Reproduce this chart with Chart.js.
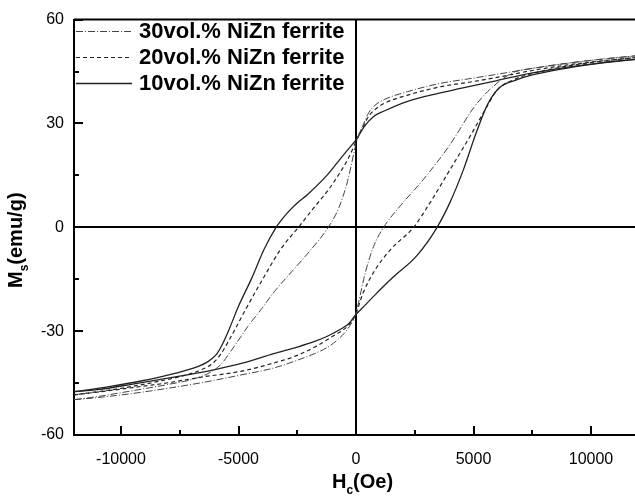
<!DOCTYPE html>
<html><head><meta charset="utf-8">
<script src="https://cdn.jsdelivr.net/npm/chart.js@4.4.1/dist/chart.umd.min.js"></script>
<style>html,body{margin:0;padding:0;background:#fff;overflow:hidden}#wrap{width:640px;height:500px;position:relative}</style>
</head><body><div id="wrap"><canvas id="c" width="640" height="500"></canvas></div>
<script>
// ---- data ----
const seriesLabels = ['30vol.% NiZn ferrite', '20vol.% NiZn ferrite', '10vol.% NiZn ferrite'];
const xMajorTicks = [-10000, -5000, 0, 5000, 10000];
const xMinorTicks = [-7500, -2500, 2500, 7500];
const yMajorTicks = [-60, -30, 0, 30, 60];
const yMinorTicks = [-45, -15, 15, 45];

// 30vol.% (dash-dot) — descending-field branch, then ascending-field branch
const h30dn = [12000,10500,9000,7500,6000,4800,3600,2200,1200,800,550,320,70,-360,-720,-1180,-1885,-2877,-3476,-4012,-4600,-4900,-5400,-5745,-6315,-7000,-8000,-9500,-11000,-12000];
const m30dn = [49.6,48.6,47.4,45.9,44.2,42.9,41.6,39.2,36.9,35.2,33.2,29.8,25.9,13.3,5.8,0,-6.2,-13.9,-18.6,-23.5,-28.6,-31.6,-36.5,-39.6,-42.3,-44.0,-45.4,-47.2,-48.9,-49.8];
const h30up = [-12000,-11000,-9500,-8000,-6500,-5000,-3476,-2500,-1730,-1200,-800,-500,-250,-30,400,750,1175,1885,2877,4012,5000,5500,5860,6300,6800,7500,9000,10500,12000];
const m30up = [-49.8,-49.2,-48.0,-46.5,-44.8,-42.8,-40.6,-38.4,-36.4,-34.6,-32.6,-30.6,-28.3,-25.4,-13.0,-5.5,0,6.2,13.9,24.0,34.5,38.5,40.8,43.2,45.0,45.9,47.4,48.6,49.6];

// 20vol.% (dashed)
const h20dn = [12000,10500,9000,7500,6000,4800,3600,2200,1200,800,550,320,70,-300,-700,-1200,-1800,-2450,-3190,-4040,-4750,-5350,-5750,-6100,-6600,-7300,-8400,-9800,-11000,-12000];
const m20dn = [49.1,48.1,46.9,45.3,43.3,41.9,40.6,38.2,35.8,34.0,32.2,29.3,25.9,20.3,15.6,10.6,5.6,0,-6.2,-15.8,-24.4,-32.0,-36.6,-39.3,-41.2,-42.8,-44.5,-46.3,-47.5,-48.4];
const h20up = [-12000,-11000,-9500,-8000,-6500,-4900,-3500,-2500,-1730,-1000,-300,-30,300,750,1460,2450,3160,4012,4863,5500,6000,6700,7500,9000,10500,12000];
const m20up = [-48.4,-47.6,-46.3,-44.9,-43.2,-41.6,-39.2,-37.0,-34.5,-31.5,-28.2,-25.4,-19.0,-13.0,-6.5,0,7.2,16.8,26.4,34.0,39.6,42.6,44.4,46.6,48.0,49.1];

// 10vol.% (solid)
const h10dn = [12000,10500,9000,7500,6000,4500,3500,2200,1200,750,320,70,-300,-700,-1200,-2060,-2500,-2900,-3150,-3400,-3900,-4450,-5000,-5400,-5700,-5950,-6300,-6800,-7700,-9150,-10500,-12000];
const m10dn = [48.6,47.6,46.3,44.6,42.4,40.2,38.7,36.4,33.6,32.0,28.8,25.9,22.8,19.5,15.3,9.5,7.0,4.3,2.3,0,-6.2,-14.9,-22.8,-29.5,-34.0,-36.8,-38.8,-40.4,-42.2,-44.4,-46.0,-47.5];
const h10up = [-12000,-11000,-9500,-8000,-7000,-6000,-4800,-3500,-2500,-1730,-1200,-700,-300,-30,400,800,1550,2600,3450,4000,4580,5100,5600,6100,6800,7500,9000,10500,12000];
const m10up = [-47.5,-46.9,-45.3,-43.6,-42.4,-41.1,-39.2,-36.5,-34.6,-32.9,-31.4,-29.6,-27.8,-25.4,-22.4,-19.6,-14.6,-8.1,0,7.2,16.8,27.0,35.5,40.3,42.5,44.0,46.0,47.5,48.6];

function pts(h, m) { return h.map((v, i) => ({ x: v, y: m[i] })); }

const FONT = "'Liberation Sans', Arial, sans-serif";
const styles = [
  { color: '#444', width: 1, dash: [7, 2, 1, 2] },
  { color: '#222', width: 1.2, dash: [4, 3] },
  { color: '#222', width: 1.3, dash: [] }
];

function ds(label, h, m, st) {
  return { label, data: pts(h, m), showLine: true, borderColor: st.color, borderWidth: st.width, borderDash: st.dash,
           pointRadius: 0, cubicInterpolationMode: 'monotone', fill: false };
}

const decorPlugin = {
  id: 'decor',
  beforeDatasetsDraw(chart) {
    const { ctx, chartArea: a, scales: { x, y } } = chart;
    ctx.save();
    ctx.strokeStyle = '#000';
    ctx.lineWidth = 2;
    const x0 = Math.round(x.getPixelForValue(0));
    const y0 = Math.round(y.getPixelForValue(0));
    ctx.beginPath();
    ctx.moveTo(x0, a.top); ctx.lineTo(x0, a.bottom);
    ctx.moveTo(a.left, y0); ctx.lineTo(a.right, y0);
    ctx.moveTo(a.left, a.top); ctx.lineTo(a.right, a.top);
    ctx.stroke();
    ctx.beginPath();
    xMajorTicks.forEach(v => { const p = Math.round(x.getPixelForValue(v)); ctx.moveTo(p, a.bottom); ctx.lineTo(p, a.bottom - 9); });
    xMinorTicks.forEach(v => { const p = Math.round(x.getPixelForValue(v)); ctx.moveTo(p, a.bottom); ctx.lineTo(p, a.bottom - 5); });
    yMajorTicks.forEach(v => { const p = Math.round(y.getPixelForValue(v)); ctx.moveTo(a.left, p); ctx.lineTo(a.left + 9, p); });
    yMinorTicks.forEach(v => { const p = Math.round(y.getPixelForValue(v)); ctx.moveTo(a.left, p); ctx.lineTo(a.left + 5, p); });
    ctx.stroke();
    ctx.restore();
  },
  afterDraw(chart) {
    const { ctx } = chart;
    ctx.save();
    const rows = [31, 57, 83];
    seriesLabels.forEach((label, i) => {
      const st = styles[i];
      ctx.strokeStyle = st.color;
      ctx.lineWidth = st.width;
      ctx.setLineDash(st.dash);
      ctx.beginPath();
      ctx.moveTo(76, rows[i] + 0.5); ctx.lineTo(132, rows[i] + 0.5);
      ctx.stroke();
      ctx.setLineDash([]);
      ctx.fillStyle = '#000';
      ctx.font = 'bold 22px ' + FONT;
      ctx.textBaseline = 'middle';
      ctx.textAlign = 'left';
      ctx.fillText(label, 139, rows[i] + 1);
    });
    ctx.fillStyle = '#000';
    ctx.textBaseline = 'alphabetic';
    ctx.textAlign = 'left';
    let xx = 332, yy = 488;
    ctx.font = 'bold 20px ' + FONT;
    ctx.fillText('H', xx, yy); xx += ctx.measureText('H').width;
    ctx.font = 'bold 12px ' + FONT;
    ctx.fillText('c', xx, yy + 6); xx += ctx.measureText('c').width;
    ctx.font = 'bold 20px ' + FONT;
    ctx.fillText('(Oe)', xx, yy);
    ctx.translate(22, 288);
    ctx.rotate(-Math.PI / 2);
    let tx = 0;
    ctx.font = 'bold 20px ' + FONT;
    ctx.fillText('M', tx, 0); tx += ctx.measureText('M').width;
    ctx.font = 'bold 12px ' + FONT;
    ctx.fillText('s', tx, 6); tx += ctx.measureText('s').width;
    ctx.font = 'bold 20px ' + FONT;
    ctx.fillText('(emu/g)', tx, 0);
    ctx.restore();
  }
};

new Chart(document.getElementById('c'), {
  type: 'scatter',
  data: {
    datasets: [
      ds(seriesLabels[0], h30dn, m30dn, styles[0]), ds(seriesLabels[0], h30up, m30up, styles[0]),
      ds(seriesLabels[1], h20dn, m20dn, styles[1]), ds(seriesLabels[1], h20up, m20up, styles[1]),
      ds(seriesLabels[2], h10dn, m10dn, styles[2]), ds(seriesLabels[2], h10up, m10up, styles[2])
    ]
  },
  options: {
    responsive: false,
    animation: false,
    devicePixelRatio: 1,
    layout: { padding: { left: 0, top: 17, right: 2, bottom: 0 } },
    plugins: { legend: { display: false }, tooltip: { enabled: false } },
    scales: {
      x: {
        type: 'linear', min: -12000, max: 12000,
        afterBuildTicks: s => { s.ticks = xMajorTicks.map(v => ({ value: v })); },
        afterFit: s => { s.height = 65; },
        grid: { display: false, drawTicks: false },
        border: { display: true, color: '#000', width: 2 },
        ticks: { color: '#000', font: { family: FONT, size: 16 }, padding: 15, maxRotation: 0, autoSkip: false, callback: v => String(v) }
      },
      y: {
        type: 'linear', min: -60, max: 60,
        afterBuildTicks: s => { s.ticks = yMajorTicks.map(v => ({ value: v })); },
        afterFit: s => { s.width = 74; },
        grid: { display: false, drawTicks: false },
        border: { display: true, color: '#000', width: 2 },
        ticks: { color: '#000', font: { family: FONT, size: 16 }, padding: 10, autoSkip: false, callback: v => String(v) }
      }
    }
  },
  plugins: [decorPlugin]
});
</script></body></html>
